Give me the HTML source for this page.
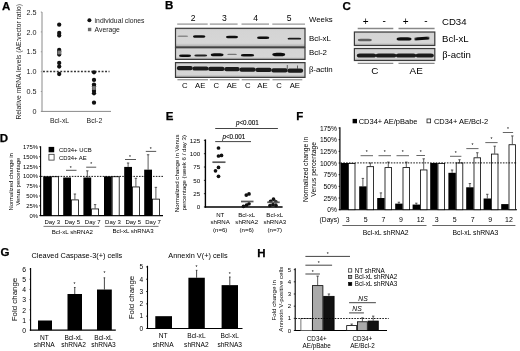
<!DOCTYPE html>
<html><head><meta charset="utf-8"><style>
html,body{margin:0;padding:0;background:#fff;}
svg{display:block;filter:grayscale(1);}
text{font-family:"Liberation Sans",sans-serif;}
</style></head><body>
<svg width="520" height="351" viewBox="0 0 520 351">
<defs>
<filter id="bb" x="-20%" y="-100%" width="140%" height="300%"><feGaussianBlur stdDeviation="0.6"/></filter>
<filter id="bl" x="-5%" y="-20%" width="110%" height="140%"><feGaussianBlur stdDeviation="0.35"/></filter>
<linearGradient id="bg" x1="0" y1="0" x2="0" y2="1"><stop offset="0" stop-color="#bdbdbd"/><stop offset="0.12" stop-color="#d4d4d4"/><stop offset="0.8" stop-color="#d6d6d6"/><stop offset="1" stop-color="#a8a8a8"/></linearGradient>
</defs>
<rect width="520" height="351" fill="#fff"/>
<text x="2.0" y="9.5" font-size="11.5" font-weight="bold" fill="#000" stroke="#000" stroke-width="0.25">A</text>
<line x1="42" y1="12" x2="42" y2="111.9" stroke="#8a8a8a" stroke-width="1"/>
<line x1="41.5" y1="111.4" x2="111" y2="111.4" stroke="#8a8a8a" stroke-width="1"/>
<text x="36.6" y="14.649999999999997" font-size="7.2" text-anchor="end" fill="#222">2.5</text>
<line x1="40.8" y1="12.049999999999997" x2="42" y2="12.049999999999997" stroke="#8a8a8a" stroke-width="0.8"/>
<text x="36.6" y="34.52" font-size="7.2" text-anchor="end" fill="#222">2.0</text>
<line x1="40.8" y1="31.92" x2="42" y2="31.92" stroke="#8a8a8a" stroke-width="0.8"/>
<text x="36.6" y="54.39000000000001" font-size="7.2" text-anchor="end" fill="#222">1.5</text>
<line x1="40.8" y1="51.790000000000006" x2="42" y2="51.790000000000006" stroke="#8a8a8a" stroke-width="0.8"/>
<text x="36.6" y="74.25999999999999" font-size="7.2" text-anchor="end" fill="#222">1.0</text>
<line x1="40.8" y1="71.66" x2="42" y2="71.66" stroke="#8a8a8a" stroke-width="0.8"/>
<text x="36.6" y="94.13" font-size="7.2" text-anchor="end" fill="#222">0.5</text>
<line x1="40.8" y1="91.53" x2="42" y2="91.53" stroke="#8a8a8a" stroke-width="0.8"/>
<text x="36.6" y="114.0" font-size="7.2" text-anchor="end" fill="#222">0</text>
<line x1="40.8" y1="111.4" x2="42" y2="111.4" stroke="#8a8a8a" stroke-width="0.8"/>
<text x="21.0" y="61.85" font-size="6.76" text-anchor="middle" transform="rotate(-90 21.0 61.85)" fill="#222">Relative mRNA levels (AE:vector ratio)</text>
<line x1="43" y1="71.6" x2="109.5" y2="71.6" stroke="#333" stroke-width="1.5" stroke-dasharray="1.9 1.55"/>
<circle cx="59.2" cy="24.65" r="2.15" fill="#111"/>
<circle cx="59.2" cy="33" r="2.15" fill="#111"/>
<circle cx="59.2" cy="35.5" r="2.15" fill="#111"/>
<circle cx="59.2" cy="50" r="2.15" fill="#111"/>
<circle cx="59.2" cy="51.5" r="2.15" fill="#111"/>
<circle cx="59.2" cy="53" r="2.15" fill="#111"/>
<circle cx="59.2" cy="54.5" r="2.15" fill="#111"/>
<circle cx="59.2" cy="63.0" r="2.15" fill="#111"/>
<circle cx="59.2" cy="66.6" r="2.15" fill="#111"/>
<circle cx="59.2" cy="74" r="2.15" fill="#111"/>
<rect x="57.4" y="50.6" width="3.6" height="3.8" fill="#7a7a7a"/>
<circle cx="94.0" cy="72.3" r="2.15" fill="#111"/>
<circle cx="94.0" cy="79.9" r="2.15" fill="#111"/>
<circle cx="94.0" cy="84.6" r="2.15" fill="#111"/>
<circle cx="94.0" cy="86.5" r="2.15" fill="#111"/>
<circle cx="94.0" cy="89" r="2.15" fill="#111"/>
<circle cx="94.0" cy="91" r="2.15" fill="#111"/>
<circle cx="94.0" cy="93.3" r="2.15" fill="#111"/>
<circle cx="94.0" cy="102.7" r="2.15" fill="#111"/>
<rect x="92.2" y="86.1" width="3.6" height="3.8" fill="#7a7a7a"/>
<circle cx="89.4" cy="20.25" r="2.0" fill="#111"/>
<text x="94.6" y="23.0" font-size="6.8" fill="#222">individual clones</text>
<rect x="87.9" y="27.8" width="3.4" height="3.4" fill="#6a6a6a"/>
<text x="94.6" y="32.4" font-size="6.8" fill="#222">Average</text>
<text x="59.6" y="122.6" font-size="6.9" text-anchor="middle" fill="#222">Bcl-xL</text>
<text x="94.4" y="122.6" font-size="6.9" text-anchor="middle" fill="#222">Bcl-2</text>
<text x="164.9" y="8.8" font-size="11.5" font-weight="bold" fill="#000" stroke="#000" stroke-width="0.25">B</text>
<text x="193.1" y="21.2" font-size="8.6" text-anchor="middle" fill="#000">2</text>
<text x="224.4" y="21.2" font-size="8.6" text-anchor="middle" fill="#000">3</text>
<text x="255.6" y="21.2" font-size="8.6" text-anchor="middle" fill="#000">4</text>
<text x="289.1" y="21.2" font-size="8.6" text-anchor="middle" fill="#000">5</text>
<text x="309" y="21.5" font-size="7.8" fill="#000">Weeks</text>
<line x1="177.2" y1="24.1" x2="207.7" y2="24.1" stroke="#999" stroke-width="1.3"/>
<line x1="209.8" y1="24.1" x2="237.6" y2="24.1" stroke="#999" stroke-width="1.3"/>
<line x1="241.5" y1="24.1" x2="269" y2="24.1" stroke="#999" stroke-width="1.3"/>
<line x1="272.3" y1="24.1" x2="305" y2="24.1" stroke="#999" stroke-width="1.3"/>
<rect x="175.5" y="28.3" width="129.5" height="18.7" fill="url(#bg)" stroke="#3a3a3a" stroke-width="1.2" filter="url(#bl)"/>
<rect x="175.5" y="47.7" width="129.5" height="11.7" fill="url(#bg)" stroke="#3a3a3a" stroke-width="1.2" filter="url(#bl)"/>
<rect x="175.5" y="62.6" width="129.5" height="14.8" fill="url(#bg)" stroke="#3a3a3a" stroke-width="1.2" filter="url(#bl)"/>
<rect x="177.4" y="35.5" width="10.799999999999983" height="1.6" rx="1.92" ry="0.8" fill="#8a8a8a" opacity="1" filter="url(#bb)"/>
<rect x="193.0" y="35.2" width="12.300000000000011" height="2.6" rx="3.12" ry="1.3" fill="#0a0a0a" opacity="1" filter="url(#bb)"/>
<rect x="226.0" y="35.65" width="12.0" height="2.7" rx="3.24" ry="1.35" fill="#0a0a0a" opacity="1" filter="url(#bb)"/>
<rect x="257.0" y="36.599999999999994" width="12.300000000000011" height="2.4" rx="2.88" ry="1.2" fill="#0a0a0a" opacity="1" filter="url(#bb)"/>
<rect x="287.6" y="37.800000000000004" width="13.599999999999966" height="1.8" rx="2.16" ry="0.9" fill="#1a1a1a" opacity="1" filter="url(#bb)"/>
<rect x="179.0" y="54.55" width="12.099999999999994" height="2.5" rx="3.0" ry="1.25" fill="#111" opacity="1" filter="url(#bb)"/>
<rect x="194.3" y="54.55" width="12.899999999999977" height="1.9" rx="2.28" ry="0.95" fill="#222" opacity="1" filter="url(#bb)"/>
<rect x="210.8" y="53.3" width="12.699999999999989" height="3.0" rx="3.5999999999999996" ry="1.5" fill="#0a0a0a" opacity="1" filter="url(#bb)"/>
<rect x="227.3" y="53.75" width="9.5" height="1.3" rx="1.56" ry="0.65" fill="#777" opacity="1" filter="url(#bb)"/>
<rect x="240.8" y="53.95" width="13.399999999999977" height="2.5" rx="3.0" ry="1.25" fill="#111" opacity="1" filter="url(#bb)"/>
<rect x="272.3" y="52.7" width="12.899999999999977" height="3.6" rx="4.32" ry="1.8" fill="#0a0a0a" opacity="1" filter="url(#bb)"/>
<rect x="176.9" y="66.07" width="15.80" height="4.2" rx="2" ry="1.7" fill="#1e1e1e" filter="url(#bb)"/>
<rect x="192.5" y="66.42" width="15.90" height="4.2" rx="2" ry="1.7" fill="#1e1e1e" filter="url(#bb)"/>
<rect x="208.20000000000002" y="66.77" width="16.30" height="4.2" rx="2" ry="1.7" fill="#1e1e1e" filter="url(#bb)"/>
<rect x="224.3" y="67.12" width="15.40" height="4.2" rx="2" ry="1.7" fill="#1e1e1e" filter="url(#bb)"/>
<rect x="239.5" y="67.47" width="16.20" height="4.2" rx="2" ry="1.7" fill="#1e1e1e" filter="url(#bb)"/>
<rect x="255.5" y="67.82" width="16.10" height="4.2" rx="2" ry="1.7" fill="#1e1e1e" filter="url(#bb)"/>
<rect x="271.4" y="68.18" width="16.20" height="4.2" rx="2" ry="1.7" fill="#1e1e1e" filter="url(#bb)"/>
<rect x="287.4" y="68.53" width="15.70" height="4.2" rx="2" ry="1.7" fill="#1e1e1e" filter="url(#bb)"/>
<path d="M287.3 69 L287.3 65 M297.5 69 L297.5 65.5" stroke="#444" stroke-width="0.8" filter="url(#bb)"/>
<line x1="177.4" y1="79.7" x2="208" y2="79.7" stroke="#999" stroke-width="1.3"/>
<line x1="209.8" y1="79.7" x2="239.4" y2="79.7" stroke="#999" stroke-width="1.3"/>
<line x1="241.7" y1="79.7" x2="269.6" y2="79.7" stroke="#999" stroke-width="1.3"/>
<line x1="272.5" y1="79.7" x2="302.3" y2="79.7" stroke="#999" stroke-width="1.3"/>
<text x="184.7" y="87.9" font-size="7.7" text-anchor="middle" fill="#000">C</text>
<text x="200.2" y="87.9" font-size="7.7" text-anchor="middle" fill="#000">AE</text>
<text x="216.4" y="87.9" font-size="7.7" text-anchor="middle" fill="#000">C</text>
<text x="231.8" y="87.9" font-size="7.7" text-anchor="middle" fill="#000">AE</text>
<text x="247.8" y="87.9" font-size="7.7" text-anchor="middle" fill="#000">C</text>
<text x="262.4" y="87.9" font-size="7.7" text-anchor="middle" fill="#000">AE</text>
<text x="279.0" y="87.9" font-size="7.7" text-anchor="middle" fill="#000">C</text>
<text x="294.8" y="87.9" font-size="7.7" text-anchor="middle" fill="#000">AE</text>
<text x="309" y="40.5" font-size="7.9" fill="#000">Bcl-xL</text>
<text x="309" y="54.5" font-size="7.9" fill="#000">Bcl-2</text>
<text x="309" y="71.7" font-size="7.9"><tspan font-family="Liberation Serif" font-size="8.5">β</tspan>-actin</text>
<text x="342.6" y="9.6" font-size="11.5" font-weight="bold" fill="#000" stroke="#000" stroke-width="0.25">C</text>
<text x="365.6" y="25.4" font-size="10.0" text-anchor="middle" fill="#000">+</text>
<text x="384.2" y="24.0" font-size="10.0" text-anchor="middle" fill="#000">-</text>
<text x="405.6" y="25.4" font-size="10.0" text-anchor="middle" fill="#000">+</text>
<text x="425.9" y="24.0" font-size="10.0" text-anchor="middle" fill="#000">-</text>
<line x1="357.7" y1="28.5" x2="393.3" y2="28.5" stroke="#888" stroke-width="1.3"/>
<line x1="357.7" y1="63.4" x2="393.3" y2="63.4" stroke="#888" stroke-width="1.3"/>
<line x1="398.5" y1="28.5" x2="434.6" y2="28.5" stroke="#888" stroke-width="1.3"/>
<line x1="398.5" y1="63.4" x2="434.6" y2="63.4" stroke="#888" stroke-width="1.3"/>
<rect x="354.4" y="32.0" width="80.4" height="13.5" fill="url(#bg)" stroke="#3a3a3a" stroke-width="1.2" filter="url(#bl)"/>
<rect x="354.4" y="48.5" width="80.4" height="12.0" fill="url(#bg)" stroke="#3a3a3a" stroke-width="1.2" filter="url(#bl)"/>
<rect x="357.8" y="38.7" width="14.0" height="2.6" rx="3.12" ry="1.3" fill="#606060" opacity="1" filter="url(#bb)"/>
<rect x="396.6" y="37.25" width="14.899999999999977" height="3.3" rx="3.9599999999999995" ry="1.65" fill="#0a0a0a" opacity="1" filter="url(#bb)"/>
<rect x="414.3" y="36.9" width="15.2" height="3.0" rx="3" ry="1.5" fill="#111" transform="rotate(-4 422 38.4)" filter="url(#bb)"/>
<rect x="356.8" y="53.4" width="19.399999999999977" height="4.0" rx="3" ry="2" fill="#1e1e1e" filter="url(#bb)"/>
<rect x="375.6" y="53.4" width="20.799999999999955" height="4.0" rx="3" ry="2" fill="#1e1e1e" filter="url(#bb)"/>
<rect x="395.8" y="53.4" width="20.399999999999977" height="4.0" rx="3" ry="2" fill="#1e1e1e" filter="url(#bb)"/>
<rect x="415.6" y="53.4" width="18.19999999999999" height="4.0" rx="3" ry="2" fill="#1e1e1e" filter="url(#bb)"/>
<text x="374.9" y="74.0" font-size="9.9" text-anchor="middle" fill="#000">C</text>
<text x="416.2" y="74.0" font-size="9.9" text-anchor="middle" fill="#000">AE</text>
<text x="442" y="24.8" font-size="9.6" fill="#000">CD34</text>
<text x="442" y="41.7" font-size="9.6" fill="#000">Bcl-xL</text>
<text x="442.2" y="57.7" font-size="9.6"><tspan font-family="Liberation Serif" font-size="10.4">β</tspan>-actin</text>
<text x="-0.25" y="142.2" font-size="11.5" font-weight="bold" fill="#000" stroke="#000" stroke-width="0.25">D</text>
<line x1="40.6" y1="146.2" x2="40.6" y2="216.1" stroke="#000" stroke-width="1.1"/>
<line x1="40.1" y1="215.6" x2="163" y2="215.6" stroke="#000" stroke-width="1.1"/>
<text x="38.0" y="217.7" font-size="5.9" text-anchor="end" fill="#000">0%</text>
<line x1="39.2" y1="215.6" x2="40.6" y2="215.6" stroke="#000" stroke-width="0.8"/>
<text x="38.0" y="207.885" font-size="5.9" text-anchor="end" fill="#000">25%</text>
<line x1="39.2" y1="205.785" x2="40.6" y2="205.785" stroke="#000" stroke-width="0.8"/>
<text x="38.0" y="198.07" font-size="5.9" text-anchor="end" fill="#000">50%</text>
<line x1="39.2" y1="195.97" x2="40.6" y2="195.97" stroke="#000" stroke-width="0.8"/>
<text x="38.0" y="188.255" font-size="5.9" text-anchor="end" fill="#000">75%</text>
<line x1="39.2" y1="186.155" x2="40.6" y2="186.155" stroke="#000" stroke-width="0.8"/>
<text x="38.0" y="178.44" font-size="5.9" text-anchor="end" fill="#000">100%</text>
<line x1="39.2" y1="176.34" x2="40.6" y2="176.34" stroke="#000" stroke-width="0.8"/>
<text x="38.0" y="168.62499999999997" font-size="5.9" text-anchor="end" fill="#000">125%</text>
<line x1="39.2" y1="166.52499999999998" x2="40.6" y2="166.52499999999998" stroke="#000" stroke-width="0.8"/>
<text x="38.0" y="158.80999999999997" font-size="5.9" text-anchor="end" fill="#000">150%</text>
<line x1="39.2" y1="156.70999999999998" x2="40.6" y2="156.70999999999998" stroke="#000" stroke-width="0.8"/>
<text x="38.0" y="148.99499999999998" font-size="5.9" text-anchor="end" fill="#000">175%</text>
<line x1="39.2" y1="146.89499999999998" x2="40.6" y2="146.89499999999998" stroke="#000" stroke-width="0.8"/>
<rect x="43.2" y="176.34" width="7.8" height="39.25999999999999" fill="#000"/>
<rect x="51.4" y="176.74" width="7.0" height="38.85999999999999" fill="#fff" stroke="#000" stroke-width="0.8"/>
<rect x="63.2" y="177.5178" width="7.8" height="38.0822" fill="#000"/>
<line x1="74.9" y1="194.007" x2="74.9" y2="199.5034" stroke="#333" stroke-width="0.8"/>
<line x1="73.7" y1="194.007" x2="76.10000000000001" y2="194.007" stroke="#333" stroke-width="0.8"/>
<rect x="71.4" y="199.9034" width="7.0" height="15.696599999999995" fill="#fff" stroke="#000" stroke-width="0.8"/>
<line x1="87.30000000000001" y1="170.84359999999998" x2="87.30000000000001" y2="177.5178" stroke="#333" stroke-width="0.8"/>
<line x1="86.10000000000001" y1="170.84359999999998" x2="88.50000000000001" y2="170.84359999999998" stroke="#333" stroke-width="0.8"/>
<rect x="83.4" y="177.5178" width="7.8" height="38.0822" fill="#000"/>
<line x1="95.10000000000001" y1="204.6072" x2="95.10000000000001" y2="208.5332" stroke="#333" stroke-width="0.8"/>
<line x1="93.9" y1="204.6072" x2="96.30000000000001" y2="204.6072" stroke="#333" stroke-width="0.8"/>
<rect x="91.60000000000001" y="208.9332" width="7.0" height="6.6668" fill="#fff" stroke="#000" stroke-width="0.8"/>
<rect x="104" y="176.34" width="7.8" height="39.25999999999999" fill="#000"/>
<rect x="112.2" y="176.74" width="7.0" height="38.85999999999999" fill="#fff" stroke="#000" stroke-width="0.8"/>
<line x1="128.1" y1="162.9916" x2="128.1" y2="166.9176" stroke="#333" stroke-width="0.8"/>
<line x1="126.89999999999999" y1="162.9916" x2="129.29999999999998" y2="162.9916" stroke="#333" stroke-width="0.8"/>
<rect x="124.2" y="166.9176" width="7.8" height="48.6824" fill="#000"/>
<line x1="135.9" y1="178.303" x2="135.9" y2="186.5476" stroke="#333" stroke-width="0.8"/>
<line x1="134.70000000000002" y1="178.303" x2="137.1" y2="178.303" stroke="#333" stroke-width="0.8"/>
<rect x="132.4" y="186.9476" width="7.0" height="28.652400000000007" fill="#fff" stroke="#000" stroke-width="0.8"/>
<line x1="148.1" y1="154.74699999999999" x2="148.1" y2="169.6658" stroke="#333" stroke-width="0.8"/>
<line x1="146.9" y1="154.74699999999999" x2="149.29999999999998" y2="154.74699999999999" stroke="#333" stroke-width="0.8"/>
<rect x="144.2" y="169.6658" width="7.8" height="45.934200000000004" fill="#000"/>
<line x1="155.9" y1="187.3328" x2="155.9" y2="198.7182" stroke="#333" stroke-width="0.8"/>
<line x1="154.70000000000002" y1="187.3328" x2="157.1" y2="187.3328" stroke="#333" stroke-width="0.8"/>
<rect x="152.4" y="199.1182" width="7.0" height="16.4818" fill="#fff" stroke="#000" stroke-width="0.8"/>
<line x1="41" y1="176.4" x2="163" y2="176.4" stroke="#000" stroke-width="0.9" stroke-dasharray="1.6 1.2"/>
<line x1="66" y1="170.3" x2="76.5" y2="170.3" stroke="#444" stroke-width="0.9"/>
<text x="70.8" y="169.56" font-size="5" text-anchor="middle" fill="#000">*</text>
<line x1="86.2" y1="167.2" x2="96.2" y2="167.2" stroke="#444" stroke-width="0.9"/>
<text x="91.2" y="166.46" font-size="5" text-anchor="middle" fill="#000">*</text>
<line x1="125" y1="159.5" x2="136" y2="159.5" stroke="#444" stroke-width="0.9"/>
<text x="130" y="158.76" font-size="5" text-anchor="middle" fill="#000">*</text>
<line x1="145.8" y1="151.4" x2="156.2" y2="151.4" stroke="#444" stroke-width="0.9"/>
<text x="150.8" y="150.66" font-size="5" text-anchor="middle" fill="#000">*</text>
<rect x="48.6" y="146.9" width="5.6" height="5.4" fill="#000"/>
<rect x="48.9" y="154.3" width="5.2" height="5.8" fill="#fff" stroke="#333" stroke-width="0.8"/>
<text x="59" y="152.0" font-size="5.9" fill="#000">CD34+ UCB</text>
<text x="59" y="159.5" font-size="5.9" fill="#000">CD34+ AE</text>
<text x="13.1" y="181.9" font-size="5.95" text-anchor="middle" transform="rotate(-90 13.1 181.9)" fill="#000">Normalized change in</text>
<text x="19.9" y="181.65" font-size="5.95" text-anchor="middle" transform="rotate(-90 19.9 181.65)" fill="#000">Venus percentage</text>
<text x="52.3" y="223.8" font-size="6.0" text-anchor="middle" fill="#000">Day 3</text>
<text x="72.3" y="223.8" font-size="6.0" text-anchor="middle" fill="#000">Day 5</text>
<text x="92.7" y="223.8" font-size="6.0" text-anchor="middle" fill="#000">Day 7</text>
<text x="112.9" y="223.8" font-size="6.0" text-anchor="middle" fill="#000">Day 3</text>
<text x="133.3" y="223.8" font-size="6.0" text-anchor="middle" fill="#000">Day 5</text>
<text x="153.1" y="223.8" font-size="6.0" text-anchor="middle" fill="#000">Day 7</text>
<line x1="43.5" y1="226.4" x2="99.3" y2="226.4" stroke="#666" stroke-width="0.9"/>
<line x1="104.8" y1="226.4" x2="158.5" y2="226.4" stroke="#666" stroke-width="0.9"/>
<text x="72.3" y="233.5" font-size="6.1" text-anchor="middle" fill="#000">Bcl-xL shRNA2</text>
<text x="133.0" y="233.4" font-size="6.1" text-anchor="middle" fill="#000">Bcl-xL shRNA3</text>
<text x="165.75" y="119.5" font-size="11.5" font-weight="bold" fill="#000" stroke="#000" stroke-width="0.25">E</text>
<line x1="205.4" y1="139.4" x2="205.4" y2="207.6" stroke="#000" stroke-width="1.4"/>
<line x1="204.8" y1="207.0" x2="282.6" y2="207.0" stroke="#000" stroke-width="1.4"/>
<text x="200.1" y="209.2" font-size="6.2" text-anchor="end" fill="#000">0</text>
<line x1="203.9" y1="207.0" x2="205.4" y2="207.0" stroke="#000" stroke-width="0.8"/>
<text x="200.1" y="195.875" font-size="6.2" text-anchor="end" fill="#000">25</text>
<line x1="203.9" y1="193.675" x2="205.4" y2="193.675" stroke="#000" stroke-width="0.8"/>
<text x="200.1" y="182.54999999999998" font-size="6.2" text-anchor="end" fill="#000">50</text>
<line x1="203.9" y1="180.35" x2="205.4" y2="180.35" stroke="#000" stroke-width="0.8"/>
<text x="200.1" y="169.225" font-size="6.2" text-anchor="end" fill="#000">75</text>
<line x1="203.9" y1="167.025" x2="205.4" y2="167.025" stroke="#000" stroke-width="0.8"/>
<text x="200.1" y="155.89999999999998" font-size="6.2" text-anchor="end" fill="#000">100</text>
<line x1="203.9" y1="153.7" x2="205.4" y2="153.7" stroke="#000" stroke-width="0.8"/>
<text x="200.1" y="142.575" font-size="6.2" text-anchor="end" fill="#000">125</text>
<line x1="203.9" y1="140.375" x2="205.4" y2="140.375" stroke="#000" stroke-width="0.8"/>
<line x1="215.2" y1="128.5" x2="277.9" y2="128.5" stroke="#444" stroke-width="1.1"/>
<line x1="215.2" y1="141.6" x2="251" y2="141.6" stroke="#444" stroke-width="1.0"/>
<text x="247.4" y="124.7" font-size="6.3" text-anchor="middle" stroke="#000" stroke-width="0.1"><tspan font-style="italic">p</tspan>&lt;0.001</text>
<text x="233.9" y="138.6" font-size="6.3" text-anchor="middle" stroke="#000" stroke-width="0.1"><tspan font-style="italic">p</tspan>&lt;0.001</text>
<circle cx="218.5" cy="148" r="1.85" fill="#111"/>
<circle cx="218.5" cy="156" r="1.85" fill="#111"/>
<circle cx="221.5" cy="155.4" r="1.85" fill="#111"/>
<circle cx="218.5" cy="167.4" r="1.85" fill="#111"/>
<circle cx="215.5" cy="170.8" r="1.85" fill="#111"/>
<circle cx="218.5" cy="176.3" r="1.85" fill="#111"/>
<circle cx="246.3" cy="195.1" r="1.85" fill="#111"/>
<circle cx="249" cy="193.9" r="1.85" fill="#111"/>
<circle cx="249" cy="203.75" r="1.85" fill="#111"/>
<circle cx="246.5" cy="205.2" r="1.85" fill="#111"/>
<circle cx="243.5" cy="206.3" r="1.85" fill="#111"/>
<circle cx="273.5" cy="199.2" r="1.85" fill="#111"/>
<circle cx="270.6" cy="201.3" r="1.85" fill="#111"/>
<circle cx="275.9" cy="201.8" r="1.85" fill="#111"/>
<circle cx="273" cy="204.5" r="1.85" fill="#111"/>
<circle cx="270" cy="205.5" r="1.85" fill="#111"/>
<circle cx="276" cy="205.5" r="1.85" fill="#111"/>
<line x1="212.4" y1="162.2" x2="225.5" y2="162.2" stroke="#5a5a5a" stroke-width="1.7"/>
<line x1="241" y1="201.5" x2="253.5" y2="201.5" stroke="#5a5a5a" stroke-width="1.7"/>
<line x1="267.2" y1="202.3" x2="279.7" y2="202.3" stroke="#5a5a5a" stroke-width="1.7"/>
<text x="220.2" y="216.6" font-size="6.1" text-anchor="middle" fill="#000">NT</text>
<text x="220.2" y="224.3" font-size="6.1" text-anchor="middle" fill="#000">shRNA</text>
<text x="220.2" y="232.0" font-size="6.1" text-anchor="middle" fill="#000">(n=6)</text>
<text x="246.7" y="216.6" font-size="6.1" text-anchor="middle" fill="#000">Bcl-xL</text>
<text x="246.7" y="224.3" font-size="6.1" text-anchor="middle" fill="#000">shRNA2</text>
<text x="246.7" y="232.0" font-size="6.1" text-anchor="middle" fill="#000">(n=6)</text>
<text x="274.8" y="216.6" font-size="6.1" text-anchor="middle" fill="#000">Bcl-xL</text>
<text x="274.8" y="224.3" font-size="6.1" text-anchor="middle" fill="#000">shRNA3</text>
<text x="274.8" y="232.0" font-size="6.1" text-anchor="middle" fill="#000">(n=7)</text>
<text x="179.4" y="173.35" font-size="6.1" text-anchor="middle" transform="rotate(-90 179.4 173.35)" fill="#000">Normalized change in Venus</text>
<text x="186.0" y="172.8" font-size="6.1" text-anchor="middle" transform="rotate(-90 186.0 172.8)" fill="#000">percentage (week 6 / day 3)</text>
<text x="296.35" y="119.5" font-size="11.5" font-weight="bold" fill="#000" stroke="#000" stroke-width="0.25">F</text>
<line x1="339.9" y1="127.2" x2="339.9" y2="210.2" stroke="#000" stroke-width="1.2"/>
<line x1="339.5" y1="209.7" x2="517" y2="209.7" stroke="#000" stroke-width="1.1"/>
<text x="337.0" y="212.29999999999998" font-size="6.7" text-anchor="end" fill="#000">0%</text>
<line x1="338.6" y1="209.7" x2="340" y2="209.7" stroke="#000" stroke-width="0.8"/>
<text x="337.0" y="200.62749999999997" font-size="6.7" text-anchor="end" fill="#000">25%</text>
<line x1="338.6" y1="198.02749999999997" x2="340" y2="198.02749999999997" stroke="#000" stroke-width="0.8"/>
<text x="337.0" y="188.95499999999998" font-size="6.7" text-anchor="end" fill="#000">50%</text>
<line x1="338.6" y1="186.355" x2="340" y2="186.355" stroke="#000" stroke-width="0.8"/>
<text x="337.0" y="177.2825" font-size="6.7" text-anchor="end" fill="#000">75%</text>
<line x1="338.6" y1="174.6825" x2="340" y2="174.6825" stroke="#000" stroke-width="0.8"/>
<text x="337.0" y="165.60999999999999" font-size="6.7" text-anchor="end" fill="#000">100%</text>
<line x1="338.6" y1="163.01" x2="340" y2="163.01" stroke="#000" stroke-width="0.8"/>
<text x="337.0" y="153.93749999999997" font-size="6.7" text-anchor="end" fill="#000">125%</text>
<line x1="338.6" y1="151.33749999999998" x2="340" y2="151.33749999999998" stroke="#000" stroke-width="0.8"/>
<text x="337.0" y="142.265" font-size="6.7" text-anchor="end" fill="#000">150%</text>
<line x1="338.6" y1="139.665" x2="340" y2="139.665" stroke="#000" stroke-width="0.8"/>
<text x="337.0" y="130.5925" font-size="6.7" text-anchor="end" fill="#000">175%</text>
<line x1="338.6" y1="127.99249999999999" x2="340" y2="127.99249999999999" stroke="#000" stroke-width="0.8"/>
<rect x="340.6" y="163.01" width="7.4" height="46.69" fill="#000"/>
<rect x="348.4" y="163.41" width="6.6000000000000005" height="46.29" fill="#fff" stroke="#000" stroke-width="0.8"/>
<line x1="362.9" y1="178.4177" x2="362.9" y2="186.355" stroke="#333" stroke-width="0.8"/>
<line x1="361.7" y1="178.4177" x2="364.09999999999997" y2="178.4177" stroke="#333" stroke-width="0.8"/>
<rect x="359.2" y="186.355" width="7.4" height="23.345" fill="#000"/>
<line x1="370.29999999999995" y1="163.01" x2="370.29999999999995" y2="166.2783" stroke="#333" stroke-width="0.8"/>
<line x1="369.09999999999997" y1="163.01" x2="371.49999999999994" y2="163.01" stroke="#333" stroke-width="0.8"/>
<rect x="366.99999999999994" y="166.6783" width="6.6000000000000005" height="43.02169999999999" fill="#fff" stroke="#000" stroke-width="0.8"/>
<line x1="380.9" y1="192.89159999999998" x2="380.9" y2="198.02749999999997" stroke="#333" stroke-width="0.8"/>
<line x1="379.7" y1="192.89159999999998" x2="382.09999999999997" y2="192.89159999999998" stroke="#333" stroke-width="0.8"/>
<rect x="377.2" y="198.02749999999997" width="7.4" height="11.672500000000014" fill="#000"/>
<line x1="388.29999999999995" y1="162.0762" x2="388.29999999999995" y2="167.2121" stroke="#333" stroke-width="0.8"/>
<line x1="387.09999999999997" y1="162.0762" x2="389.49999999999994" y2="162.0762" stroke="#333" stroke-width="0.8"/>
<rect x="384.99999999999994" y="167.6121" width="6.6000000000000005" height="42.0879" fill="#fff" stroke="#000" stroke-width="0.8"/>
<line x1="398.9" y1="202.22959999999998" x2="398.9" y2="203.63029999999998" stroke="#333" stroke-width="0.8"/>
<line x1="397.7" y1="202.22959999999998" x2="400.09999999999997" y2="202.22959999999998" stroke="#333" stroke-width="0.8"/>
<rect x="395.2" y="203.63029999999998" width="7.4" height="6.069700000000012" fill="#000"/>
<line x1="406.29999999999995" y1="162.0762" x2="406.29999999999995" y2="167.2121" stroke="#333" stroke-width="0.8"/>
<line x1="405.09999999999997" y1="162.0762" x2="407.49999999999994" y2="162.0762" stroke="#333" stroke-width="0.8"/>
<rect x="402.99999999999994" y="167.6121" width="6.6000000000000005" height="42.0879" fill="#fff" stroke="#000" stroke-width="0.8"/>
<line x1="416.3" y1="203.1634" x2="416.3" y2="204.5641" stroke="#333" stroke-width="0.8"/>
<line x1="415.1" y1="203.1634" x2="417.5" y2="203.1634" stroke="#333" stroke-width="0.8"/>
<rect x="412.6" y="204.5641" width="7.4" height="5.135899999999992" fill="#000"/>
<line x1="423.7" y1="158.8079" x2="423.7" y2="169.54659999999998" stroke="#333" stroke-width="0.8"/>
<line x1="422.5" y1="158.8079" x2="424.9" y2="158.8079" stroke="#333" stroke-width="0.8"/>
<rect x="420.4" y="169.9466" width="6.6000000000000005" height="39.753400000000006" fill="#fff" stroke="#000" stroke-width="0.8"/>
<rect x="430.2" y="163.01" width="7.4" height="46.69" fill="#000"/>
<rect x="437.99999999999994" y="163.41" width="6.6000000000000005" height="46.29" fill="#fff" stroke="#000" stroke-width="0.8"/>
<line x1="452.09999999999997" y1="170.0135" x2="452.09999999999997" y2="172.8149" stroke="#333" stroke-width="0.8"/>
<line x1="450.9" y1="170.0135" x2="453.29999999999995" y2="170.0135" stroke="#333" stroke-width="0.8"/>
<rect x="448.4" y="172.8149" width="7.4" height="36.885099999999994" fill="#000"/>
<line x1="459.49999999999994" y1="159.74169999999998" x2="459.49999999999994" y2="162.54309999999998" stroke="#333" stroke-width="0.8"/>
<line x1="458.29999999999995" y1="159.74169999999998" x2="460.69999999999993" y2="159.74169999999998" stroke="#333" stroke-width="0.8"/>
<rect x="456.19999999999993" y="162.9431" width="6.6000000000000005" height="46.75690000000001" fill="#fff" stroke="#000" stroke-width="0.8"/>
<line x1="469.9" y1="183.5536" x2="469.9" y2="187.28879999999998" stroke="#333" stroke-width="0.8"/>
<line x1="468.7" y1="183.5536" x2="471.09999999999997" y2="183.5536" stroke="#333" stroke-width="0.8"/>
<rect x="466.2" y="187.28879999999998" width="7.4" height="22.411200000000008" fill="#000"/>
<line x1="477.29999999999995" y1="152.7382" x2="477.29999999999995" y2="157.4072" stroke="#333" stroke-width="0.8"/>
<line x1="476.09999999999997" y1="152.7382" x2="478.49999999999994" y2="152.7382" stroke="#333" stroke-width="0.8"/>
<rect x="473.99999999999994" y="157.8072" width="6.6000000000000005" height="51.8928" fill="#fff" stroke="#000" stroke-width="0.8"/>
<line x1="487.3" y1="194.29229999999998" x2="487.3" y2="198.49439999999998" stroke="#333" stroke-width="0.8"/>
<line x1="486.1" y1="194.29229999999998" x2="488.5" y2="194.29229999999998" stroke="#333" stroke-width="0.8"/>
<rect x="483.6" y="198.49439999999998" width="7.4" height="11.205600000000004" fill="#000"/>
<line x1="494.7" y1="146.20159999999998" x2="494.7" y2="153.672" stroke="#333" stroke-width="0.8"/>
<line x1="493.5" y1="146.20159999999998" x2="495.9" y2="146.20159999999998" stroke="#333" stroke-width="0.8"/>
<rect x="491.4" y="154.072" width="6.6000000000000005" height="55.62799999999999" fill="#fff" stroke="#000" stroke-width="0.8"/>
<rect x="501.2" y="204.0972" width="7.4" height="5.602800000000002" fill="#000"/>
<line x1="512.3" y1="135.9298" x2="512.3" y2="144.334" stroke="#333" stroke-width="0.8"/>
<line x1="511.09999999999997" y1="135.9298" x2="513.5" y2="135.9298" stroke="#333" stroke-width="0.8"/>
<rect x="508.99999999999994" y="144.734" width="6.6000000000000005" height="64.96599999999998" fill="#fff" stroke="#000" stroke-width="0.8"/>
<line x1="340.5" y1="162.9" x2="517" y2="162.9" stroke="#000" stroke-width="0.9" stroke-dasharray="1.6 1.2"/>
<line x1="360.6" y1="155.7" x2="373" y2="155.7" stroke="#555" stroke-width="0.9"/>
<text x="366.8" y="154.36" font-size="5" text-anchor="middle" fill="#000">*</text>
<line x1="378.5" y1="155.7" x2="391" y2="155.7" stroke="#555" stroke-width="0.9"/>
<text x="384.75" y="154.36" font-size="5" text-anchor="middle" fill="#000">*</text>
<line x1="396.5" y1="155.7" x2="409" y2="155.7" stroke="#555" stroke-width="0.9"/>
<text x="402.75" y="154.36" font-size="5" text-anchor="middle" fill="#000">*</text>
<line x1="416.4" y1="155.5" x2="425" y2="155.5" stroke="#555" stroke-width="0.9"/>
<text x="420.7" y="154.16" font-size="5" text-anchor="middle" fill="#000">*</text>
<line x1="450" y1="156.3" x2="461.4" y2="156.3" stroke="#555" stroke-width="0.9"/>
<text x="455.7" y="154.97" font-size="5" text-anchor="middle" fill="#000">*</text>
<line x1="466.3" y1="148.6" x2="478.5" y2="148.6" stroke="#555" stroke-width="0.9"/>
<text x="472.4" y="147.26" font-size="5" text-anchor="middle" fill="#000">*</text>
<line x1="485.3" y1="142.6" x2="497.6" y2="142.6" stroke="#555" stroke-width="0.9"/>
<text x="491.45000000000005" y="141.26" font-size="5" text-anchor="middle" fill="#000">*</text>
<line x1="502.8" y1="132.5" x2="513.1" y2="132.5" stroke="#555" stroke-width="0.9"/>
<text x="507.95000000000005" y="131.16" font-size="5" text-anchor="middle" fill="#000">*</text>
<rect x="352.6" y="118.9" width="4.4" height="4.4" fill="#000"/>
<text x="358.7" y="123.6" font-size="7.47" fill="#000">CD34+ AE/pBabe</text>
<rect x="427.0" y="119.0" width="3.6" height="3.8" fill="#fff" stroke="#222" stroke-width="0.8"/>
<text x="433.9" y="123.6" font-size="7.47" fill="#000">CD34+ AE/Bcl-2</text>
<text x="307.8" y="169.3" font-size="6.75" text-anchor="middle" transform="rotate(-90 307.8 169.3)" fill="#000">Normalized change in</text>
<text x="315.5" y="169.25" font-size="6.8" text-anchor="middle" transform="rotate(-90 315.5 169.25)" fill="#000">Venus percentage</text>
<text x="339.3" y="221.9" font-size="6.7" text-anchor="end" fill="#000">(Days)</text>
<text x="347.6" y="221.9" font-size="7.0" text-anchor="middle" fill="#000">3</text>
<text x="365.7" y="221.9" font-size="7.0" text-anchor="middle" fill="#000">5</text>
<text x="383.4" y="221.9" font-size="7.0" text-anchor="middle" fill="#000">7</text>
<text x="401.0" y="221.9" font-size="7.0" text-anchor="middle" fill="#000">9</text>
<text x="420.6" y="221.9" font-size="7.0" text-anchor="middle" fill="#000">12</text>
<text x="436.7" y="221.9" font-size="7.0" text-anchor="middle" fill="#000">3</text>
<text x="454.8" y="221.9" font-size="7.0" text-anchor="middle" fill="#000">5</text>
<text x="472.6" y="221.9" font-size="7.0" text-anchor="middle" fill="#000">7</text>
<text x="490.1" y="221.9" font-size="7.0" text-anchor="middle" fill="#000">9</text>
<text x="509.0" y="221.9" font-size="7.0" text-anchor="middle" fill="#000">12</text>
<line x1="342.4" y1="225.5" x2="426.5" y2="225.5" stroke="#666" stroke-width="1.0"/>
<line x1="432.3" y1="225.5" x2="515.4" y2="225.5" stroke="#666" stroke-width="1.0"/>
<text x="385.7" y="235.1" font-size="6.8" text-anchor="middle" fill="#000">Bcl-xL shRNA2</text>
<text x="475.4" y="235.3" font-size="6.8" text-anchor="middle" fill="#000">Bcl-xL shRNA3</text>
<text x="0.4" y="256.4" font-size="11.5" font-weight="bold" fill="#000" stroke="#000" stroke-width="0.25">G</text>
<text x="31.5" y="258.0" font-size="7.38" fill="#000">Cleaved Caspase-3(+) cells</text>
<line x1="30.6" y1="268.0" x2="30.6" y2="330.6" stroke="#000" stroke-width="1.1"/>
<line x1="30.1" y1="330.1" x2="115.8" y2="330.1" stroke="#000" stroke-width="1.1"/>
<text x="26.0" y="332.90000000000003" font-size="6.8" text-anchor="end" fill="#000">0</text>
<line x1="29.6" y1="330.1" x2="31" y2="330.1" stroke="#000" stroke-width="0.8"/>
<text x="26.0" y="322.73" font-size="6.8" text-anchor="end" fill="#000">1</text>
<line x1="29.6" y1="319.93" x2="31" y2="319.93" stroke="#000" stroke-width="0.8"/>
<text x="26.0" y="312.56000000000006" font-size="6.8" text-anchor="end" fill="#000">2</text>
<line x1="29.6" y1="309.76000000000005" x2="31" y2="309.76000000000005" stroke="#000" stroke-width="0.8"/>
<text x="26.0" y="302.39000000000004" font-size="6.8" text-anchor="end" fill="#000">3</text>
<line x1="29.6" y1="299.59000000000003" x2="31" y2="299.59000000000003" stroke="#000" stroke-width="0.8"/>
<text x="26.0" y="292.22" font-size="6.8" text-anchor="end" fill="#000">4</text>
<line x1="29.6" y1="289.42" x2="31" y2="289.42" stroke="#000" stroke-width="0.8"/>
<text x="26.0" y="282.05" font-size="6.8" text-anchor="end" fill="#000">5</text>
<line x1="29.6" y1="279.25" x2="31" y2="279.25" stroke="#000" stroke-width="0.8"/>
<text x="26.0" y="271.88000000000005" font-size="6.8" text-anchor="end" fill="#000">6</text>
<line x1="29.6" y1="269.08000000000004" x2="31" y2="269.08000000000004" stroke="#000" stroke-width="0.8"/>
<rect x="38" y="320.49952" width="14" height="9.600480000000005" fill="#000"/>
<line x1="74.75" y1="287.4877" x2="74.75" y2="293.9965" stroke="#333" stroke-width="0.9"/>
<line x1="73.95" y1="287.4877" x2="75.55" y2="287.4877" stroke="#333" stroke-width="0.9"/>
<rect x="67.5" y="293.9965" width="14.5" height="36.1035" fill="#000"/>
<line x1="104.4" y1="277.82620000000003" x2="104.4" y2="289.5217" stroke="#333" stroke-width="0.9"/>
<line x1="103.60000000000001" y1="277.82620000000003" x2="105.2" y2="277.82620000000003" stroke="#333" stroke-width="0.9"/>
<rect x="97" y="289.5217" width="14.799999999999997" height="40.57830000000001" fill="#000"/>
<text x="74.6" y="285.56" font-size="5" text-anchor="middle" fill="#000">*</text>
<text x="104.5" y="275.37" font-size="5" text-anchor="middle" fill="#000">*</text>
<text x="44.3" y="339.6" font-size="6.6" text-anchor="middle" fill="#000">NT</text>
<text x="44.3" y="347.4" font-size="6.6" text-anchor="middle" fill="#000">shRNA</text>
<text x="73.6" y="339.6" font-size="6.6" text-anchor="middle" fill="#000">Bcl-xL</text>
<text x="73.6" y="347.4" font-size="6.6" text-anchor="middle" fill="#000">shRNA2</text>
<text x="103.5" y="339.6" font-size="6.6" text-anchor="middle" fill="#000">Bcl-xL</text>
<text x="103.5" y="347.4" font-size="6.6" text-anchor="middle" fill="#000">shRNA3</text>
<text x="17.0" y="299.5" font-size="7.9" text-anchor="middle" transform="rotate(-90 17.0 299.5)" fill="#000">Fold change</text>
<text x="197.95" y="257.8" font-size="7.33" text-anchor="middle" fill="#000">Annexin V(+) cells</text>
<line x1="147.5" y1="265.8" x2="147.5" y2="329" stroke="#000" stroke-width="1.1"/>
<line x1="147.0" y1="328.5" x2="242.5" y2="328.5" stroke="#000" stroke-width="1.1"/>
<text x="143.2" y="330.8" font-size="6.5" text-anchor="end" fill="#000">0</text>
<line x1="146.1" y1="328.5" x2="147.5" y2="328.5" stroke="#000" stroke-width="0.8"/>
<text x="143.2" y="318.48" font-size="6.5" text-anchor="end" fill="#000">1</text>
<line x1="146.1" y1="316.18" x2="147.5" y2="316.18" stroke="#000" stroke-width="0.8"/>
<text x="143.2" y="306.16" font-size="6.5" text-anchor="end" fill="#000">2</text>
<line x1="146.1" y1="303.86" x2="147.5" y2="303.86" stroke="#000" stroke-width="0.8"/>
<text x="143.2" y="293.84000000000003" font-size="6.5" text-anchor="end" fill="#000">3</text>
<line x1="146.1" y1="291.54" x2="147.5" y2="291.54" stroke="#000" stroke-width="0.8"/>
<text x="143.2" y="281.52000000000004" font-size="6.5" text-anchor="end" fill="#000">4</text>
<line x1="146.1" y1="279.22" x2="147.5" y2="279.22" stroke="#000" stroke-width="0.8"/>
<text x="143.2" y="269.2" font-size="6.5" text-anchor="end" fill="#000">5</text>
<line x1="146.1" y1="266.9" x2="147.5" y2="266.9" stroke="#000" stroke-width="0.8"/>
<rect x="155.3" y="316.18" width="16.69999999999999" height="12.319999999999993" fill="#000"/>
<line x1="196.60000000000002" y1="270.3496" x2="196.60000000000002" y2="277.7416" stroke="#333" stroke-width="0.9"/>
<line x1="195.8" y1="270.3496" x2="197.40000000000003" y2="270.3496" stroke="#333" stroke-width="0.9"/>
<rect x="188.4" y="277.7416" width="16.400000000000006" height="50.758399999999995" fill="#000"/>
<line x1="229.8" y1="277.0024" x2="229.8" y2="285.1336" stroke="#333" stroke-width="0.9"/>
<line x1="229.0" y1="277.0024" x2="230.60000000000002" y2="277.0024" stroke="#333" stroke-width="0.9"/>
<rect x="221.6" y="285.1336" width="16.400000000000006" height="43.3664" fill="#000"/>
<text x="196.6" y="269.46" font-size="5" text-anchor="middle" fill="#000">*</text>
<text x="229.8" y="276.46" font-size="5" text-anchor="middle" fill="#000">*</text>
<text x="163.1" y="338.0" font-size="6.6" text-anchor="middle" fill="#000">NT</text>
<text x="163.1" y="347.3" font-size="6.6" text-anchor="middle" fill="#000">shRNA</text>
<text x="196.4" y="338.0" font-size="6.6" text-anchor="middle" fill="#000">Bcl-xL</text>
<text x="196.4" y="347.3" font-size="6.6" text-anchor="middle" fill="#000">shRNA2</text>
<text x="229.7" y="338.0" font-size="6.6" text-anchor="middle" fill="#000">Bcl-xL</text>
<text x="229.7" y="347.3" font-size="6.6" text-anchor="middle" fill="#000">shRNA3</text>
<text x="134.2" y="297.5" font-size="7.9" text-anchor="middle" transform="rotate(-90 134.2 297.5)" fill="#000">Fold change</text>
<text x="257.25" y="257.0" font-size="11.5" font-weight="bold" fill="#000" stroke="#000" stroke-width="0.25">H</text>
<line x1="295.2" y1="268.2" x2="295.2" y2="330.7" stroke="#000" stroke-width="1.1"/>
<line x1="294.7" y1="330.5" x2="387" y2="330.5" stroke="#000" stroke-width="1.1"/>
<text x="291.0" y="332.6" font-size="6.0" text-anchor="end" fill="#000">0</text>
<line x1="293.8" y1="330.5" x2="295.2" y2="330.5" stroke="#000" stroke-width="0.8"/>
<text x="291.0" y="320.43" font-size="6.0" text-anchor="end" fill="#000">1</text>
<line x1="293.8" y1="318.33" x2="295.2" y2="318.33" stroke="#000" stroke-width="0.8"/>
<text x="291.0" y="308.26000000000005" font-size="6.0" text-anchor="end" fill="#000">2</text>
<line x1="293.8" y1="306.16" x2="295.2" y2="306.16" stroke="#000" stroke-width="0.8"/>
<text x="291.0" y="296.09000000000003" font-size="6.0" text-anchor="end" fill="#000">3</text>
<line x1="293.8" y1="293.99" x2="295.2" y2="293.99" stroke="#000" stroke-width="0.8"/>
<text x="291.0" y="283.92" font-size="6.0" text-anchor="end" fill="#000">4</text>
<line x1="293.8" y1="281.82" x2="295.2" y2="281.82" stroke="#000" stroke-width="0.8"/>
<text x="291.0" y="271.75" font-size="6.0" text-anchor="end" fill="#000">5</text>
<line x1="293.8" y1="269.65" x2="295.2" y2="269.65" stroke="#000" stroke-width="0.8"/>
<rect x="300.9" y="318.4517" width="11.4" height="12.048299999999983" fill="#fff" stroke="#555" stroke-width="0.8"/>
<line x1="317.65" y1="276.1001" x2="317.65" y2="285.2276" stroke="#333" stroke-width="0.8"/>
<line x1="316.45" y1="276.1001" x2="318.84999999999997" y2="276.1001" stroke="#333" stroke-width="0.8"/>
<rect x="312.4" y="285.6276" width="10.50000000000001" height="44.872400000000006" fill="#aaa" stroke="#000" stroke-width="0.8"/>
<line x1="328.9" y1="293.99" x2="328.9" y2="295.9372" stroke="#333" stroke-width="0.8"/>
<line x1="327.7" y1="293.99" x2="330.09999999999997" y2="293.99" stroke="#333" stroke-width="0.8"/>
<rect x="323.7" y="296.3372" width="10.399999999999988" height="34.16279999999998" fill="#111" stroke="#000" stroke-width="0.8"/>
<line x1="351.70000000000005" y1="324.0499" x2="351.70000000000005" y2="325.20605" stroke="#333" stroke-width="0.8"/>
<line x1="350.50000000000006" y1="324.0499" x2="352.90000000000003" y2="324.0499" stroke="#333" stroke-width="0.8"/>
<rect x="346.7" y="325.60605" width="10.00000000000001" height="4.893949999999995" fill="#fff" stroke="#000" stroke-width="0.8"/>
<line x1="362.4" y1="317.8432" x2="362.4" y2="321.3725" stroke="#333" stroke-width="0.8"/>
<line x1="361.2" y1="317.8432" x2="363.59999999999997" y2="317.8432" stroke="#333" stroke-width="0.8"/>
<rect x="357.5" y="321.7725" width="9.799999999999965" height="8.727499999999997" fill="#aaa" stroke="#000" stroke-width="0.8"/>
<line x1="373.2" y1="316.1394" x2="373.2" y2="320.6423" stroke="#333" stroke-width="0.8"/>
<line x1="372.0" y1="316.1394" x2="374.4" y2="316.1394" stroke="#333" stroke-width="0.8"/>
<rect x="368.09999999999997" y="321.04229999999995" width="10.2" height="9.457700000000022" fill="#111" stroke="#000" stroke-width="0.8"/>
<line x1="295.5" y1="318.5" x2="388.7" y2="318.5" stroke="#000" stroke-width="0.9" stroke-dasharray="1.6 1.2"/>
<line x1="305.4" y1="256.4" x2="350" y2="256.4" stroke="#444" stroke-width="1.0"/>
<text x="327.8" y="256.26" font-size="5" text-anchor="middle" fill="#000">*</text>
<line x1="305.4" y1="265.2" x2="332.1" y2="265.2" stroke="#444" stroke-width="1.0"/>
<text x="318.8" y="265.06" font-size="5" text-anchor="middle" fill="#000">*</text>
<line x1="305.4" y1="274" x2="319.9" y2="274" stroke="#444" stroke-width="1.0"/>
<text x="312.7" y="273.87" font-size="5" text-anchor="middle" fill="#000">*</text>
<line x1="349.1" y1="302.7" x2="375.9" y2="302.7" stroke="#444" stroke-width="1.0"/>
<line x1="349.1" y1="312.9" x2="363.9" y2="312.9" stroke="#444" stroke-width="1.0"/>
<text x="363.0" y="300.7" font-size="6.8" text-anchor="middle" font-style="italic" fill="#000">NS</text>
<text x="357.0" y="311.0" font-size="6.8" text-anchor="middle" font-style="italic" fill="#000">NS</text>
<rect x="348.5" y="268.8" width="3.3" height="3.3" fill="#fff" stroke="#000" stroke-width="0.6"/>
<rect x="348.5" y="275.40000000000003" width="3.3" height="3.3" fill="#aaa" stroke="#000" stroke-width="0.6"/>
<rect x="348.5" y="282.3" width="3.3" height="3.3" fill="#000" stroke="#000" stroke-width="0.6"/>
<text x="354.8" y="272.6" font-size="6.3" fill="#000">NT shRNA</text>
<text x="354.8" y="279.2" font-size="6.3" fill="#000">Bcl-xL shRNA2</text>
<text x="354.8" y="286.1" font-size="6.3" fill="#000">Bcl-xL shRNA3</text>
<text x="316.7" y="340.5" font-size="6.3" text-anchor="middle" fill="#000">CD34+</text>
<text x="316.7" y="347.7" font-size="6.3" text-anchor="middle" fill="#000">AE/pBabe</text>
<text x="362.4" y="340.5" font-size="6.3" text-anchor="middle" fill="#000">CD34+</text>
<text x="362.4" y="347.7" font-size="6.3" text-anchor="middle" fill="#000">AE/Bcl-2</text>
<text x="275.8" y="300.3" font-size="6.15" text-anchor="middle" transform="rotate(-90 275.8 300.3)" fill="#000">Fold change in</text>
<text x="283.5" y="299.2" font-size="6.2" text-anchor="middle" transform="rotate(-90 283.5 299.2)" fill="#000">Annexin V-positive cells</text>
</svg>
</body></html>
